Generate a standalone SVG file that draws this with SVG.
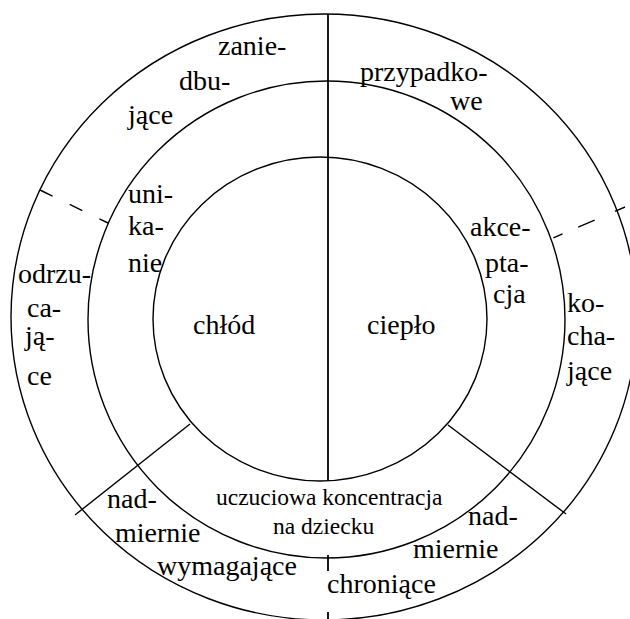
<svg xmlns="http://www.w3.org/2000/svg" width="630" height="619" viewBox="0 0 630 619">
<style>
.ring{fill:none;stroke:#000;stroke-width:1.4}
.ln{stroke:#000;stroke-width:1.4;fill:none}
.axis{stroke:#000;stroke-width:1.8}
.t{font-size:28px;fill:#000}
.s{font-size:23.5px;fill:#000}
</style>
<rect x="0" y="0" width="630" height="619" fill="#fff"/>
<g id="rings">
<ellipse class="ring" cx="324" cy="317" rx="313" ry="303"/>
<circle class="ring" cx="326.5" cy="319.5" r="238.5"/>
<ellipse class="ring" cx="320" cy="319" rx="167" ry="162"/>
</g>
<g id="connectors">
<line class="axis" x1="328" y1="14" x2="328" y2="481"/>
<line class="axis" x1="328" y1="555" x2="328" y2="571"/>
<line class="axis" x1="328" y1="612" x2="328" y2="619"/>
<line class="ln" x1="190" y1="424" x2="75" y2="515"/>
<line class="ln" x1="448" y1="425" x2="566" y2="514"/>
<line class="ln" x1="40" y1="190" x2="108" y2="223" stroke-dasharray="14 19"/>
<line class="ln" x1="625" y1="207" x2="553" y2="238" stroke-dasharray="11 22 18 17 10"/>
</g>
<g id="labels" font-family="Liberation Serif, Times New Roman, DejaVu Serif, serif">
<g id="label-zaniedbujace">
<text class="t" x="218" y="55">zanie-</text>
<text class="t" x="179" y="90">dbu-</text>
<text class="t" x="128" y="124">jące</text>
</g>
<g id="label-przypadkowe">
<text class="t" x="360" y="81">przypadko-</text>
<text class="t" x="450" y="110">we</text>
</g>
<g id="label-unikanie">
<text class="t" x="128" y="203">uni-</text>
<text class="t" x="128" y="235">ka-</text>
<text class="t" x="128" y="272">nie</text>
</g>
<g id="label-akceptacja">
<text class="t" x="470" y="236">akce-</text>
<text class="t" x="485" y="272">pta-</text>
<text class="t" x="493" y="303">cja</text>
</g>
<g id="label-odrzucajace">
<text class="t" x="18" y="283">odrzu-</text>
<text class="t" x="27" y="317">ca-</text>
<text class="t" x="25" y="345">ją-</text>
<text class="t" x="27" y="385">ce</text>
</g>
<g id="label-kochajace">
<text class="t" x="567" y="312">ko-</text>
<text class="t" x="567" y="345">cha-</text>
<text class="t" x="567" y="380">jące</text>
</g>
<g id="label-chlod">
<text class="t" x="193" y="334">chłód</text>
</g>
<g id="label-cieplo">
<text class="t" x="367" y="334">ciepło</text>
</g>
<g id="label-uczuciowa">
<text class="s" x="216" y="505">uczuciowa koncentracja</text>
<text class="s" x="273" y="534">na dziecku</text>
</g>
<g id="label-wymagajace">
<text class="t" x="107" y="508">nad-</text>
<text class="t" x="115" y="542">miernie</text>
<text class="t" x="157" y="575">wymagające</text>
</g>
<g id="label-chroniace">
<text class="t" x="468" y="525">nad-</text>
<text class="t" x="413" y="558">miernie</text>
<text class="t" x="327" y="593">chroniące</text>
</g>
</g>
</svg>
